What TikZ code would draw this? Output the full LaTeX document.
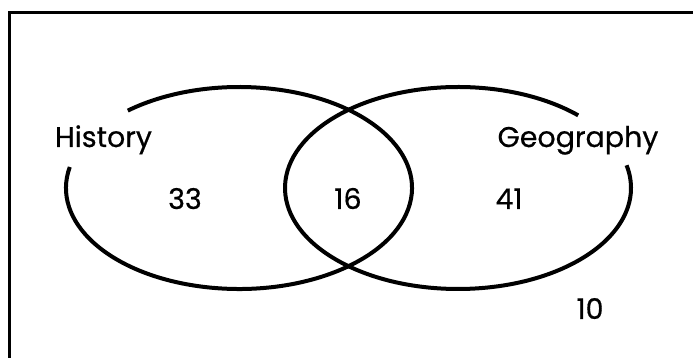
\documentclass[tikz,border=0pt]{standalone}
\usepackage{fontspec}
\setmainfont{Poppins}[FakeBold=0.6]
\begin{document}
\begin{tikzpicture}[x=1pt,y=1pt,
  vennline/.style={line width=4pt},
  framerule/.style={line width=3.5pt},
  lbl/.style={anchor=base,inner sep=0pt,font=\fontsize{28.5}{30}\selectfont}]
\useasboundingbox (0,0) rectangle (693,358);
\fill[white] (0,0) rectangle (693,358);
\coordinate (fl) at (9.5,0);
\coordinate (tl) at (9.5,345.5);
\coordinate (tr) at (693,345.5);
\draw[framerule] (fl) -- (tl) -- (tr);
\coordinate (cH) at (239,170);
\coordinate (cG) at (458,170);
\draw[vennline] (cH) ++(168:173 and 101) arc[start angle=168,end angle=490,x radius=173,y radius=101];
\draw[vennline] (cG) ++(46:173 and 101) arc[start angle=46,end angle=373,x radius=173,y radius=101];
\node[lbl] (hist) at (103.5,211) {History};
\node[lbl] (geo) at (578,211) {Geography};
\node[lbl] (n33) at (185,149) {33};
\node[lbl] (n16) at (348,149) {16};
\node[lbl] (n41) at (509,149) {41};
\node[lbl] (n10) at (590,39) {10};
\end{tikzpicture}
\end{document}
